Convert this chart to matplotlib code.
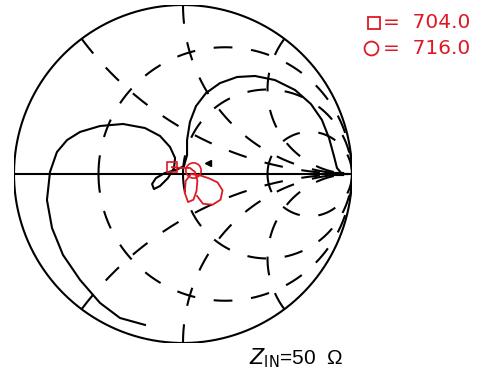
import numpy as np
import matplotlib.pyplot as plt

main_re = [-0.225, -0.373, -0.491, -0.609, -0.710, -0.775, -0.805, -0.787, -0.746, -0.686,
           -0.609, -0.491, -0.355, -0.225, -0.136, -0.077, -0.047, -0.053, -0.089, -0.136,
           -0.172, -0.183, -0.160, -0.107, -0.041, 0.006, 0.024, 0.024, 0.041, 0.077,
           0.136, 0.219, 0.320, 0.426, 0.544, 0.663, 0.757, 0.822, 0.864, 0.893,
           0.911, 0.941]
main_im = [-0.893, -0.852, -0.763, -0.627, -0.479, -0.320, -0.154, 0.012, 0.130, 0.201,
           0.249, 0.284, 0.296, 0.272, 0.225, 0.160, 0.095, 0.036, -0.024, -0.071,
           -0.089, -0.059, -0.024, 0.006, 0.024, 0.047, 0.112, 0.201, 0.308, 0.402,
           0.479, 0.538, 0.574, 0.580, 0.556, 0.497, 0.414, 0.320, 0.213, 0.107,
           0.036, 0.0]

# red trace
red_re = [-0.065, -0.018, 0.041, 0.071, 0.085, 0.080, 0.062, 0.030, 0.010, 0.016,
          0.047, 0.100, 0.155, 0.205, 0.234, 0.222, 0.175, 0.118, 0.083]
red_im = [0.041, 0.036, 0.036, 0.012, -0.040, -0.100, -0.152, -0.166, -0.110, -0.041,
          0.0, -0.008, -0.026, -0.050, -0.097, -0.152, -0.182, -0.176, -0.130]

r_circles = [1/3, 1, 3]
x_arcs = [0.5, 1, 2, -0.5, -1, -2]
freq_labels = ['=  704.0', '=  716.0']

red = '#dd1a24'

fig = plt.figure(figsize=(4.79, 3.78), dpi=100)
ax = fig.add_axes([14/479, 35/378, 338/479, 338/378])
ax.set_xlim(-1, 1)
ax.set_ylim(-1, 1)
ax.axis('off')

dash = (0, (9, 9))

#### grid: constant resistance circles, drawn from the real axis outwards
for r in r_circles:
    c = r / (1 + r)
    R = 1 / (1 + r)
    for t in (np.linspace(np.pi, 0, 400), np.linspace(np.pi, 2*np.pi, 400)):
        ax.plot(c + R*np.cos(t), R*np.sin(t), color='k', lw=1.5, ls=dash)

#### grid: constant reactance arcs, from the rim inwards
s = np.linspace(0, np.pi/2 - 0.01, 600)
for x in x_arcs:
    z = np.tan(s) + 1j*x
    g = (z - 1) / (z + 1)
    ax.plot(g.real, g.imag, color='k', lw=1.5, ls=dash)

# rim + real axis
t = np.linspace(0, 2*np.pi, 500)
ax.plot(np.cos(t), np.sin(t), color='k', lw=1.5)
ax.plot([-1, 1], [0, 0], color='k', lw=1.5)

# traces
ax.plot(main_re, main_im, color='k', lw=1.5)
ax.plot([0.86, 0.94], [0.0, 0.0], color='k', lw=3)
ax.plot(0.148, 0.065, marker='<', color='k', ms=5)

ax.plot(red_re, red_im, color=red, lw=1.3)
ax.plot(red_re[0], red_im[0], marker='s', mfc='none', mec=red, ms=7, mew=1.2)
ax.plot(0.059, 0.024, marker='o', mfc='none', mec=red, ms=11, mew=1.2)

# legend (runs off the figure edge like the original)
ax.plot((374-183)/169, (174-23)/169, marker='s', mfc='none', mec=red, ms=8, mew=1.3, clip_on=False)
ax.plot((371-183)/169, (174-48)/169, marker='o', mfc='none', mec=red, ms=10, mew=1.3, clip_on=False)
fig.text(383/479, 1 - 23/378, freq_labels[0], color=red, fontsize=14.5,
         family='DejaVu Sans', va='center')
fig.text(383/479, 1 - 48/378, freq_labels[1], color=red, fontsize=14.5,
         family='DejaVu Sans', va='center')

fig.text(296/479, 1 - 358/378, r'$Z_{\rm IN}$=50  Ω', fontsize=15,
         family='Liberation Sans', ha='center', va='center')

fig.savefig('out.png', dpi=100)
